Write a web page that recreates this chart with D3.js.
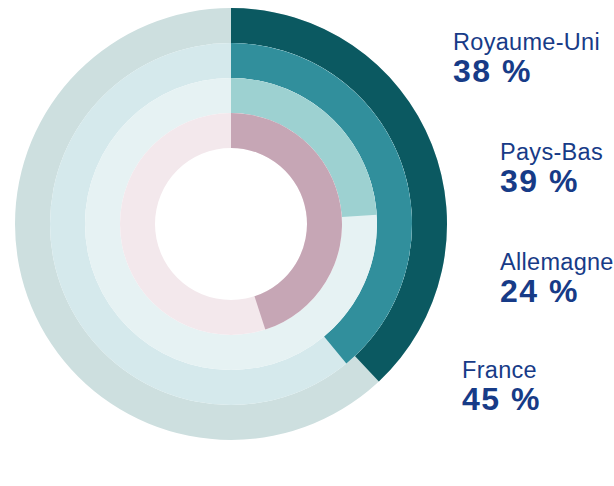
<!DOCTYPE html>
<html>
<head>
<meta charset="utf-8">
<script src="https://cdn.jsdelivr.net/npm/d3@7"></script>
<style>
  body { margin: 0; padding: 0; background: #fff; }
  text { font-family: "Liberation Sans", Arial, sans-serif; fill: #173b87; }
</style>
</head>
<body>
<script>
// rings from outside to inside
var countries = ["Royaume-Uni", "Pays-Bas", "Allemagne", "France"];
var shares = [38, 39, 24, 45];
var fgColors = ["#0b5961", "#318f9c", "#9dd1d1", "#c6a6b5"];
var bgColors = ["#cddfdf", "#d5e9ec", "#e6f2f3", "#f3e8ec"];
var labelPos = [[453, 50], [500, 160], [500, 270], [462, 378]];

var W = 614, H = 486, cx = 231, cy = 224;
var svg = d3.select("body").append("svg").attr("width", W).attr("height", H);
var g = svg.append("g").attr("transform", "translate(" + cx + "," + cy + ")");

var r = d3.scaleLinear().domain([0, 4]).range([216, 76]);
var ang = d3.scaleLinear().domain([0, 100]).range([0, 2 * Math.PI]);

countries.forEach(function (c, i) {
  var arc = d3.arc().outerRadius(r(i)).innerRadius(r(i + 1));
  g.append("path").attr("d", arc({startAngle: 0, endAngle: 2 * Math.PI})).attr("fill", bgColors[i]);
  g.append("path").attr("d", arc({startAngle: 0, endAngle: ang(shares[i])})).attr("fill", fgColors[i]);

  svg.append("text").attr("x", labelPos[i][0]).attr("y", labelPos[i][1])
    .style("font-size", "23.5px").style("letter-spacing", "0.3px").text(c);
  svg.append("text").attr("x", labelPos[i][0]).attr("y", labelPos[i][1] + 32)
    .style("font-size", "32px").style("font-weight", "bold").style("letter-spacing", "1.5px")
    .text(shares[i] + " %");
});
</script>
</body>
</html>
